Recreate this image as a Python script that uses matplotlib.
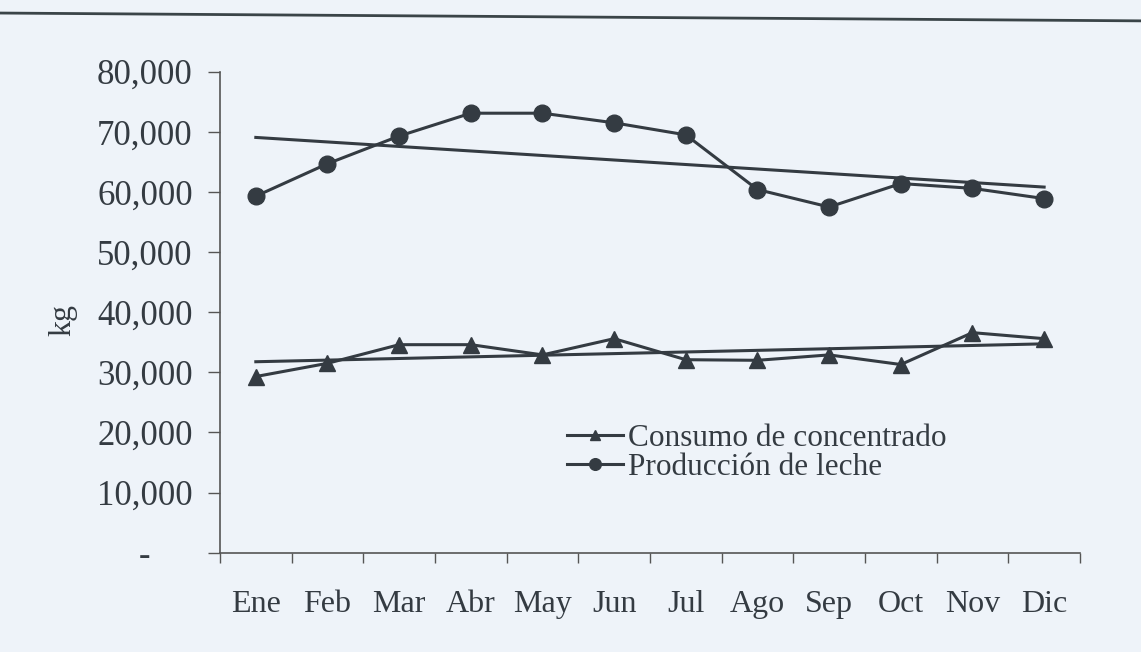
import numpy as np
import matplotlib.pyplot as plt
from matplotlib.ticker import FuncFormatter

meses = ['Ene', 'Feb', 'Mar', 'Abr', 'May', 'Jun', 'Jul', 'Ago', 'Sep', 'Oct', 'Nov', 'Dic']
produccion = [59300, 64700, 69300, 73100, 73100, 71500, 69500, 60400, 57500, 61400, 60600, 58900]
concentrado = [29300, 31500, 34600, 34600, 32900, 35600, 32100, 32000, 32900, 31300, 36600, 35600]

color = '#343b42'
fondo = '#eef3f9'

plt.rcParams['font.family'] = ['Liberation Serif', 'DejaVu Serif']

fig = plt.figure(figsize=(11.41, 6.52), dpi=100, facecolor=fondo)
ax = fig.add_axes([0.1928, 0.1523, 0.7537, 0.7377])
ax.set_facecolor(fondo)

x = np.arange(len(meses))

# trend lines from a linear fit
for serie in (produccion, concentrado):
    coef = np.polyfit(x, serie, 1)
    ax.plot(x, np.polyval(coef, x), color=color, lw=2.2)

ax.plot(x, concentrado, color=color, lw=2.2, marker='^', ms=11,
        label='Consumo de concentrado')
ax.plot(x, produccion, color=color, lw=2.2, marker='o', ms=12,
        label='Producción de leche')

ax.set_xlim(-0.5, len(meses) - 0.5)
ax.set_ylim(0, 80000)
ax.set_yticks(range(0, 80001, 10000))
ax.yaxis.set_major_formatter(FuncFormatter(lambda v, p: '-' if v == 0 else f'{int(v):,}'))

ax.set_xticks(x)
ax.set_xticklabels(meses)
ax.set_xticks(np.arange(-0.5, len(meses)), minor=True)
ax.tick_params(axis='x', which='major', length=0, pad=27, labelsize=23, colors=color)
ax.tick_params(axis='x', which='minor', length=7, width=1, direction='out', color='#555555')
ax.tick_params(axis='y', length=9, width=1, direction='out', color='#555555',
               labelsize=25, labelcolor=color, pad=45)
for lbl in ax.get_yticklabels():
    lbl.set_horizontalalignment('center')

for s in ('top', 'right'):
    ax.spines[s].set_visible(False)
for s in ('left', 'bottom'):
    ax.spines[s].set_color('#555555')
    ax.spines[s].set_linewidth(1.2)

fig.text(63 / 1141, 1 - 320 / 652, 'kg', rotation=90, ha='center', va='center',
         fontsize=23, color=color)

leg = ax.legend(loc='upper left', bbox_to_anchor=(0.385, 0.30), frameon=False,
                fontsize=22.5, handlelength=1.8, handletextpad=0.15,
                labelspacing=0.0, markerscale=0.7, borderpad=0)
for t in leg.get_texts():
    t.set_color(color)

# scanned page rule at the top
fig.add_artist(plt.Line2D([0, 1], [0.980, 0.968], color='#3a4448', lw=2,
                          transform=fig.transFigure))

fig.savefig('out.png', dpi=100, facecolor=fondo)
